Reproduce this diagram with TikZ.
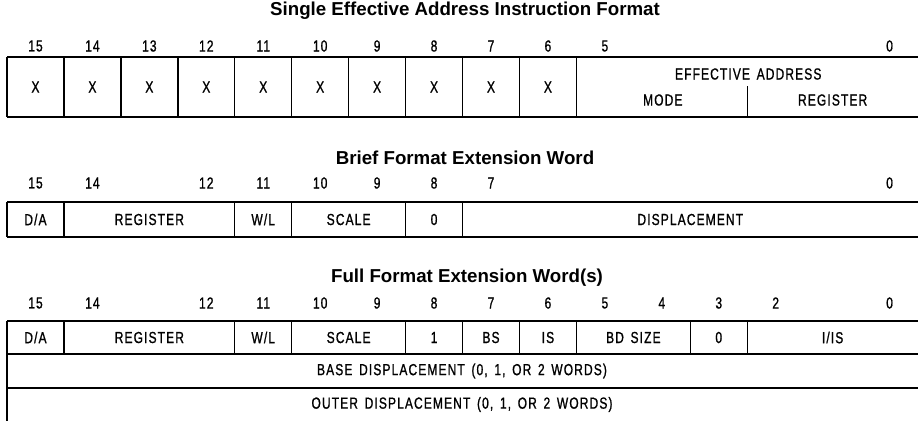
\documentclass[tikz,border=0pt]{standalone}
\usepackage{fontspec}
\setmainfont{Liberation Sans}
\newfontfamily\condf[FakeStretch=0.75,LetterSpace=7,WordSpace=1.5,FakeBold=1]{Liberation Sans}
\newfontfamily\titlef{Liberation Sans}
\begin{document}
\begin{tikzpicture}[x=1pt,y=-1pt,
  lbl/.style={inner sep=0pt,font=\condf\fontsize{16}{16}\selectfont},
  bitnum/.style={inner sep=0pt,font=\condf\fontsize{16}{16}\selectfont},
  ttl/.style={inner sep=0pt,font=\titlef\bfseries\fontsize{18.7}{18.7}\selectfont},
  ln/.style={line width=1.4pt}]
\useasboundingbox (0,0) rectangle (918,421);
\def\W{56.94}
% ---------- Row 1 ----------
\node[ttl] (t1) at (465,11) {Single Effective Address Instruction Format};
\foreach \b [count=\k from 0] in {15,14,13,12,11,10,9,8,7,6}{
  \node[bitnum] (a\b) at ({7+(\k+0.5)*\W},46) {\b};
  \node[lbl] (x\b) at ({7+(\k+0.5)*\W},87) {X};
}
\node[bitnum] (a5) at ({7+10.5*\W},46) {5};
\node[bitnum] (a0) at ({7+15.5*\W},46) {0};
\draw[ln] (7,57) -- (918,57) (7,117) -- (918,117);
\foreach \k in {0,...,10}{ \draw[ln] ({7+\k*\W},57) -- ({7+\k*\W},117); }
\draw[ln] ({7+13*\W},86) -- ({7+13*\W},117);
\node[lbl] (ea) at ({7+13*\W+1},74) {EFFECTIVE ADDRESS};
\node[lbl] (mode) at ({7+11.5*\W+1},100) {MODE};
\node[lbl] (reg1) at ({7+14.5*\W},100) {REGISTER};
% ---------- Row 2 ----------
\node[ttl] (t2) at (465,158) {Brief Format Extension Word};
\foreach \b/\k in {15/0,14/1,12/3,11/4,10/5,9/6,8/7,7/8,0/15}{
  \node[bitnum] (b\b) at ({7+(\k+0.5)*\W},183) {\b};
}
\draw[ln] (7,202) -- (918,202) (7,237) -- (918,237);
\foreach \k in {0,1,4,5,7,8}{ \draw[ln] ({7+\k*\W},202) -- ({7+\k*\W},237); }
\node[lbl] (bda) at ({7+0.5*\W},219.5) {D/A};
\node[lbl] (breg) at ({7+2.5*\W},219.5) {REGISTER};
\node[lbl] (bwl) at ({7+4.5*\W},219.5) {W/L};
\node[lbl] (bsc) at ({7+6*\W},219.5) {SCALE};
\node[lbl] (bz) at ({7+7.5*\W},219.5) {0};
\node[lbl] (bdisp) at ({7+12*\W},219.5) {DISPLACEMENT};
% ---------- Row 3 ----------
\node[ttl] (t3) at (467,278) {Full Format Extension Word(s)};
\foreach \b/\k in {15/0,14/1,12/3,11/4,10/5,9/6,8/7,7/8,6/9,5/10,4/11,3/12,2/13,0/15}{
  \node[bitnum] (c\b) at ({7+(\k+0.5)*\W},303) {\b};
}
\draw[ln] (7,321) -- (918,321) (7,354) -- (918,354) (7,388) -- (918,388);
\draw[ln] (7,321) -- (7,421);
\foreach \k in {1,4,5,7,8,9,10,12,13}{ \draw[ln] ({7+\k*\W},321) -- ({7+\k*\W},354); }
\node[lbl] (cda) at ({7+0.5*\W},337.5) {D/A};
\node[lbl] (creg) at ({7+2.5*\W},337.5) {REGISTER};
\node[lbl] (cwl) at ({7+4.5*\W},337.5) {W/L};
\node[lbl] (csc) at ({7+6*\W},337.5) {SCALE};
\node[lbl] (cone) at ({7+7.5*\W},337.5) {1};
\node[lbl] (cbs) at ({7+8.5*\W},337.5) {BS};
\node[lbl] (cis) at ({7+9.5*\W},337.5) {IS};
\node[lbl] (cbd) at ({7+11*\W},337.5) {BD SIZE};
\node[lbl] (cz) at ({7+12.5*\W},337.5) {0};
\node[lbl] (ciis) at ({7+14.5*\W},337.5) {I/IS};
\node[lbl] (base) at (462,371) {BASE DISPLACEMENT (0, 1, OR 2 WORDS)};
\node[lbl] (outer) at (462,404.5) {OUTER DISPLACEMENT (0, 1, OR 2 WORDS)};
\end{tikzpicture}
\end{document}
